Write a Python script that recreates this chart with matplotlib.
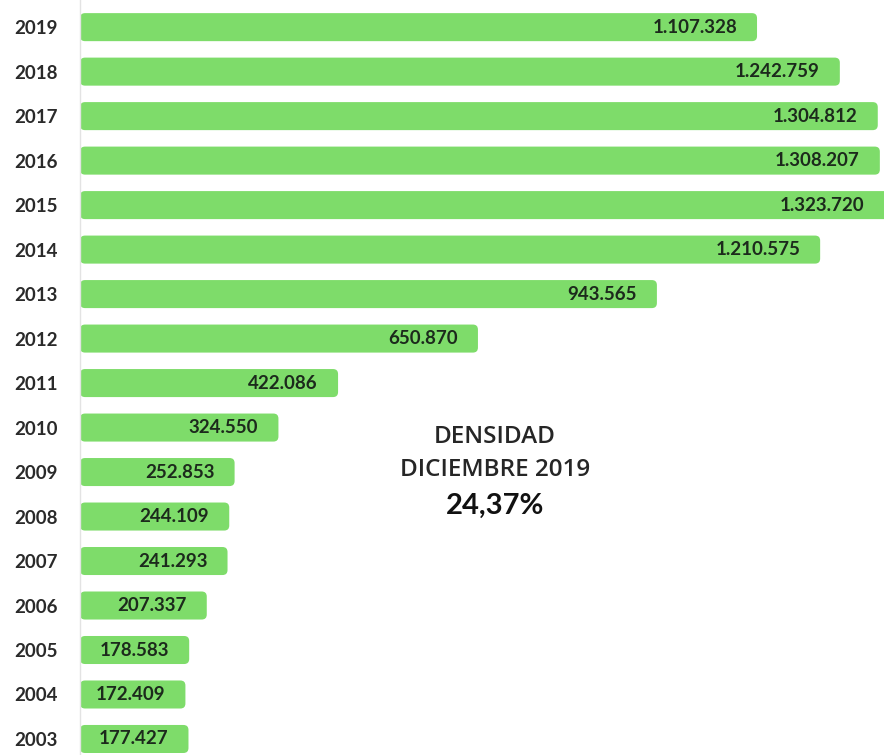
import matplotlib.pyplot as plt
from matplotlib.patches import FancyBboxPatch

years = [2003, 2004, 2005, 2006, 2007, 2008, 2009, 2010, 2011,
         2012, 2013, 2014, 2015, 2016, 2017, 2018, 2019]
values = [177427, 172409, 178583, 207337, 241293, 244109, 252853, 324550, 422086,
          650870, 943565, 1210575, 1323720, 1308207, 1304812, 1242759, 1107328]
labels = ["177.427", "172.409", "178.583", "207.337", "241.293", "244.109", "252.853",
          "324.550", "422.086", "650.870", "943.565", "1.210.575", "1.323.720",
          "1.308.207", "1.304.812", "1.242.759", "1.107.328"]

bar_color = "#7edc6a"
text_color = "#1c2a1c"

plt.rcParams['font.family'] = ['Lato', 'DejaVu Sans']

fig = plt.figure(figsize=(8.84, 7.55), dpi=100)
ax = fig.add_axes([80 / 884, 0, 804 / 884, 1])

# the longest bar runs a little past the right edge
xmax = 1.315e6
ax.set_xlim(0, xmax)
ax.set_ylim(-0.36, 16.61)

# data units per pixel, used for the rounded corners
ux = xmax / 804
uy = (16.61 + 0.36) / 755
bar_h = 0.63

for i, (v, lab) in enumerate(zip(values, labels)):
    box = FancyBboxPatch((0, i - bar_h / 2), v, bar_h,
                         boxstyle="round,pad=0,rounding_size=%f" % (5 * ux),
                         mutation_aspect=uy / ux,
                         facecolor=bar_color, edgecolor="none")
    ax.add_patch(box)
    ax.text(min(v, xmax) - 20 * ux, i, lab, ha="right", va="center",
            fontsize=13.5, fontweight="bold", color=text_color)

ax.set_yticks(range(len(years)))
ax.set_yticklabels([str(y) for y in years], fontsize=13.5, fontweight="bold", color="#2a2a2a")
ax.tick_params(axis="y", length=0, pad=16)
ax.set_xticks([])

for s in ["top", "right", "bottom"]:
    ax.spines[s].set_visible(False)
ax.spines["left"].set_color("#e3e3e3")
ax.spines["left"].set_linewidth(1)

note_font = ['Open Sans', 'Lato', 'DejaVu Sans']
ax.text(495 / 884, 1 - 437 / 755, "DENSIDAD", transform=fig.transFigure, family=note_font,
        ha="center", va="center", fontsize=17.5, fontweight="semibold", color="#262626")
ax.text(495 / 884, 1 - 470 / 755, "DICIEMBRE 2019", transform=fig.transFigure, family=note_font,
        ha="center", va="center", fontsize=17.5, fontweight="semibold", color="#262626")
ax.text(495 / 884, 1 - 506 / 755, "24,37%", transform=fig.transFigure,
        ha="center", va="center", fontsize=21, fontweight="bold", color="#111111")

fig.savefig("out.png", dpi=100)
